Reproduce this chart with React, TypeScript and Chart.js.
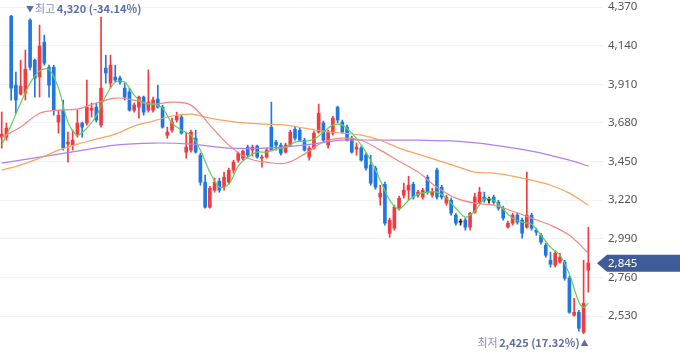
import React, { useEffect, useRef } from "react";
import { Chart, registerables } from "chart.js";
Chart.register(...registerables);

// Daily candles (index 0..124)
const opens = [
  3595, 3595, 4316, 3905, 3852, 3858, 4292, 4054, 3953, 4161,
  4012, 4012, 3685, 3756, 3554, 3548, 3607, 3679, 3679, 3756,
  3774, 3667, 4006, 3917, 3953, 3947, 3887, 3864, 3756, 3774,
  3834, 3756, 3756, 3822, 3774, 3607, 3637, 3697, 3715, 3506,
  3518, 3589, 3488, 3327, 3178, 3279, 3333, 3297, 3327, 3399,
  3458, 3470, 3536, 3518, 3542, 3470, 3476, 3655, 3566, 3548,
  3506, 3548, 3643, 3637, 3577, 3476, 3530, 3625, 3679, 3548,
  3619, 3774, 3685, 3655, 3589, 3524, 3530, 3488, 3429, 3411,
  3238, 3315, 3023, 3053, 3172, 3250, 3279, 3315, 3250, 3238,
  3357, 3250, 3399, 3297, 3202, 3220, 3131, 3089, 3101, 3059,
  3148, 3208, 3238, 3220, 3238, 3208, 3172, 3059, 3083, 3131,
  3101, 3059, 3131, 3041, 3011, 2952, 2862, 2833, 2851, 2850,
  2755, 2535, 2552, 2433, 2803,
];
const closes = [
  3613, 3649, 3887, 3816, 3899, 4000, 4012, 3947, 4138, 4036,
  3905, 3756, 3726, 3530, 3566, 3577, 3679, 3655, 3774, 3768,
  3697, 3887, 3977, 4024, 3935, 3923, 3834, 3756, 3786, 3834,
  3744, 3804, 3816, 3774, 3655, 3625, 3685, 3721, 3619, 3536,
  3625, 3506, 3327, 3178, 3291, 3327, 3279, 3357, 3399, 3446,
  3500, 3512, 3488, 3536, 3476, 3476, 3518, 3518, 3548, 3500,
  3548, 3625, 3589, 3577, 3518, 3530, 3619, 3738, 3577, 3625,
  3709, 3697, 3625, 3577, 3506, 3536, 3458, 3411, 3321, 3297,
  3262, 3083, 3101, 3178, 3232, 3279, 3309, 3238, 3268, 3279,
  3268, 3268, 3238, 3238, 3238, 3142, 3083, 3089, 3059, 3142,
  3238, 3268, 3220, 3220, 3208, 3172, 3113, 3083, 3131, 3089,
  3023, 3131, 3053, 3029, 2970, 2892, 2839, 2904, 2880, 2755,
  2552, 2552, 2457, 2606, 2845,
];
const highs = [
  3745, 3679, 4320, 3983, 4054, 4114, 4300, 4060, 4263, 4203,
  4024, 4024, 3756, 3816, 3625, 3637, 3756, 3685, 3935, 3798,
  3798, 4310, 4084, 4084, 4024, 3959, 3917, 3887, 3798, 3840,
  3840, 3995, 3834, 3905, 3786, 3655, 3709, 3744, 3726, 3625,
  3637, 3637, 3500, 3369, 3303, 3351, 3351, 3387, 3411, 3458,
  3506, 3518, 3548, 3548, 3548, 3488, 3530, 3804, 3577, 3560,
  3560, 3637, 3655, 3649, 3589, 3542, 3631, 3792, 3691, 3637,
  3721, 3780, 3697, 3667, 3601, 3560, 3542, 3500, 3488, 3423,
  3309, 3327, 3113, 3190, 3244, 3321, 3363, 3327, 3279, 3291,
  3369, 3291, 3411, 3309, 3250, 3232, 3142, 3107, 3113, 3148,
  3262, 3297, 3268, 3238, 3250, 3220, 3184, 3095, 3142, 3142,
  3113, 3387, 3142, 3053, 3023, 2964, 2910, 2916, 2904, 2862,
  2767, 2636, 2564, 2862, 3059,
];
const lows = [
  3530, 3577, 3816, 3738, 3846, 3816, 3995, 3834, 3834, 4024,
  3834, 3726, 3619, 3518, 3446, 3518, 3595, 3595, 3667, 3715,
  3685, 3655, 3917, 3887, 3923, 3911, 3816, 3750, 3744, 3709,
  3726, 3744, 3744, 3768, 3649, 3589, 3625, 3685, 3613, 3470,
  3506, 3500, 3309, 3172, 3172, 3267, 3267, 3279, 3315, 3381,
  3446, 3458, 3476, 3482, 3470, 3417, 3470, 3515, 3518, 3488,
  3500, 3542, 3577, 3571, 3512, 3458, 3524, 3619, 3566, 3530,
  3607, 3679, 3619, 3571, 3500, 3488, 3452, 3399, 3309, 3285,
  3190, 3071, 2999, 3041, 3160, 3232, 3220, 3226, 3238, 3226,
  3256, 3238, 3226, 3226, 3190, 3131, 3071, 3071, 3041, 3041,
  3142, 3202, 3208, 3202, 3196, 3160, 3101, 3053, 3071, 3077,
  2994, 3053, 3041, 3011, 2958, 2880, 2821, 2821, 2845, 2743,
  2546, 2529, 2440, 2425, 2672,
];

// Moving averages read at candle indices
const ma5Idx = [
  0, 2, 4, 6, 8, 10, 12, 14, 16, 18, 20, 22, 24, 26, 28, 30, 32, 34, 36, 38,
  40, 42, 44, 46, 48, 50, 52, 54, 56, 58, 60, 62, 64, 66, 68, 70, 72, 74, 76, 78,
  80, 82, 84, 86, 88, 90, 92, 94, 96, 98, 100, 102, 104, 106, 108, 110, 112, 114,
  116, 118, 120, 122, 123, 124,
];
const ma5 = [
  3548, 3667, 3798, 3917, 3989, 4000, 3887, 3685, 3607, 3649, 3721, 3840, 3923, 3923, 3846, 3798, 3792, 3768, 3679, 3637,
  3607, 3518, 3387, 3297, 3315, 3423, 3476, 3506, 3506, 3524, 3536, 3566, 3571, 3583, 3625, 3667, 3667, 3619, 3548, 3458,
  3339, 3220, 3166, 3220, 3256, 3268, 3268, 3232, 3172, 3119, 3154, 3226, 3220, 3166, 3113, 3089, 3077, 3011,
  2940, 2892, 2779, 2612, 2582, 2606,
];
const ma20Idx = [0, 4, 8, 12, 16, 20, 24, 28, 32, 36, 40, 44, 48, 52, 56, 60, 64, 68, 72, 76, 80, 84, 88, 92, 96, 100, 104, 108, 112, 116, 120, 124];
const ma20 = [3595, 3655, 3738, 3756, 3762, 3798, 3828, 3816, 3792, 3804, 3786, 3667, 3548, 3470, 3446, 3440, 3494, 3566, 3589, 3577, 3518, 3452, 3387, 3297, 3232, 3202, 3190, 3154, 3113, 3071, 3011, 2904];
const ma60Idx = ma20Idx;
const ma60 = [3399, 3429, 3470, 3518, 3554, 3583, 3613, 3661, 3691, 3721, 3732, 3709, 3691, 3679, 3673, 3667, 3649, 3631, 3619, 3607, 3577, 3530, 3494, 3458, 3423, 3387, 3381, 3363, 3339, 3309, 3262, 3190];
const ma120Idx = [0, 8, 16, 24, 32, 40, 48, 56, 64, 72, 80, 88, 96, 104, 112, 120, 124];
const ma120 = [3440, 3476, 3512, 3548, 3560, 3554, 3530, 3530, 3548, 3577, 3577, 3577, 3571, 3548, 3512, 3458, 3423];

const yTicks = [2530, 2760, 2990, 3220, 3450, 3680, 3910, 4140, 4370];

const RED = "#f23a40";
const BLUE = "#1f78e2";
const DOJI = "#222222";
const fmt = (v: number) => v.toLocaleString("en-US");

export default function App() {
  const ref = useRef<HTMLCanvasElement>(null);

  useEffect(() => {
    if (!ref.current) return;
    const n = closes.length;
    const idx = closes.map((_, i) => i);
    const colorOf = (i: number) =>
      closes[i] > opens[i] ? RED : closes[i] < opens[i] ? BLUE : DOJI;
    const colors = idx.map(colorOf);

    const line = (xs: number[], ys: number[], color: string, tension: number) => ({
      type: "line" as const,
      data: xs.map((x, k) => ({ x, y: ys[k] })),
      borderColor: color,
      borderWidth: 1.2,
      pointRadius: 0,
      tension,
      order: 0,
    });

    const annot = {
      id: "annot",
      afterDraw(chart: any) {
        const { ctx, chartArea } = chart;
        const xs = chart.scales.x;
        const ys = chart.scales.y;
        let hi = 0;
        let lo = 0;
        for (let i = 0; i < n; i++) {
          if (highs[i] > highs[hi]) hi = i;
          if (lows[i] < lows[lo]) lo = i;
        }
        const last = closes[n - 1];
        const hiPct = (last / highs[hi] - 1) * 100;
        const loPct = (last / lows[lo] - 1) * 100;
        const kfont = '"Noto Sans CJK KR", "DejaVu Sans", sans-serif';
        ctx.save();
        ctx.textBaseline = "middle";

        // high label
        const hx = Math.max(xs.getPixelForValue(hi), chartArea.left + 30);
        const hy = ys.getPixelForValue(highs[hi]) - 6.5;
        ctx.fillStyle = "#5f6fa5";
        ctx.font = "8px " + kfont;
        ctx.textAlign = "center";
        ctx.fillText("▼", hx, hy);
        let cx = hx + 5;
        ctx.textAlign = "left";
        ctx.font = "11px " + kfont;
        ctx.fillStyle = "#8790b5";
        ctx.fillText("최고", cx, hy);
        cx += ctx.measureText("최고").width + 1.5;
        ctx.font = "bold 11px " + kfont;
        ctx.fillStyle = "#5f6fa5";
        ctx.fillText(fmt(highs[hi]) + " (" + hiPct.toFixed(2) + "%)", cx, hy);

        // low label
        const lx = xs.getPixelForValue(lo);
        const ly = ys.getPixelForValue(lows[lo]) + 9.5;
        ctx.font = "8px " + kfont;
        ctx.textAlign = "center";
        ctx.fillStyle = "#5f6fa5";
        ctx.fillText("▲", lx + 1, ly);
        let rx = lx - 4;
        ctx.textAlign = "right";
        ctx.font = "bold 11px " + kfont;
        const numTxt = fmt(lows[lo]) + " (" + loPct.toFixed(2) + "%)";
        ctx.fillText(numTxt, rx, ly);
        rx -= ctx.measureText(numTxt).width + 1.5;
        ctx.font = "11px " + kfont;
        ctx.fillStyle = "#8790b5";
        ctx.fillText("최저", rx, ly);

        // last price tag
        const py = ys.getPixelForValue(last);
        const tip = chartArea.right - 6;
        const left = chartArea.right + 4;
        ctx.fillStyle = "#3f5b9a";
        ctx.beginPath();
        ctx.moveTo(tip, py);
        ctx.lineTo(left, py - 8.5);
        ctx.lineTo(chart.width, py - 8.5);
        ctx.lineTo(chart.width, py + 8.5);
        ctx.lineTo(left, py + 8.5);
        ctx.closePath();
        ctx.fill();
        ctx.fillStyle = "#ffffff";
        ctx.textAlign = "left";
        ctx.font = '11.5px "Noto Sans", sans-serif';
        ctx.fillText(fmt(last), chartArea.right + 5, py + 0.5);
        ctx.restore();
      },
    };

    const chart = new Chart(ref.current, {
      type: "bar",
      data: {
        datasets: [
          line(ma5Idx, ma5, "#63cf58", 0.3),
          line(ma20Idx, ma20, "#f58585", 0.35),
          line(ma60Idx, ma60, "#f7a560", 0.35),
          line(ma120Idx, ma120, "#b17ff0", 0.35),
          {
            type: "bar" as const,
            data: idx.map((i) => ({ x: i, y: [Math.min(opens[i], closes[i]), Math.max(opens[i], closes[i])] })) as any,
            backgroundColor: colors,
            barThickness: 3,
            minBarLength: 1,
            grouped: false,
            borderWidth: 0,
            order: 1,
          },
          {
            type: "bar" as const,
            data: idx.map((i) => ({ x: i, y: [lows[i], highs[i]] })) as any,
            backgroundColor: colors,
            barThickness: 1,
            grouped: false,
            borderWidth: 0,
            order: 2,
          },
        ],
      },
      options: {
        animation: false,
        responsive: true,
        maintainAspectRatio: false,
        events: [],
        layout: { padding: 0 },
        plugins: { legend: { display: false }, tooltip: { enabled: false } },
        scales: {
          x: {
            type: "linear",
            display: false,
            offset: false,
            min: -0.36,
            max: 127.1,
          },
          y: {
            type: "linear",
            position: "right",
            min: 2280,
            max: 4412,
            border: { display: false },
            grid: { color: "#f1f2f6", drawTicks: false, lineWidth: 1 },
            ticks: {
              padding: 5,
              color: "#555555",
              font: { family: '"Noto Sans", sans-serif', size: 11.5 },
              callback: (v: any) => fmt(Number(v)),
            },
            afterBuildTicks: (s: any) => {
              s.ticks = yTicks.map((v) => ({ value: v }));
            },
            afterFit: (s: any) => {
              s.width = 77;
              s.paddingTop = 0;
              s.paddingBottom = 0;
            },
          },
        },
      },
      plugins: [annot],
    });
    return () => chart.destroy();
  }, []);

  return (
    <div style={{ position: "fixed", left: 0, top: 0, width: 680, height: 358, background: "#fff" }}>
      <canvas ref={ref} />
    </div>
  );
}
